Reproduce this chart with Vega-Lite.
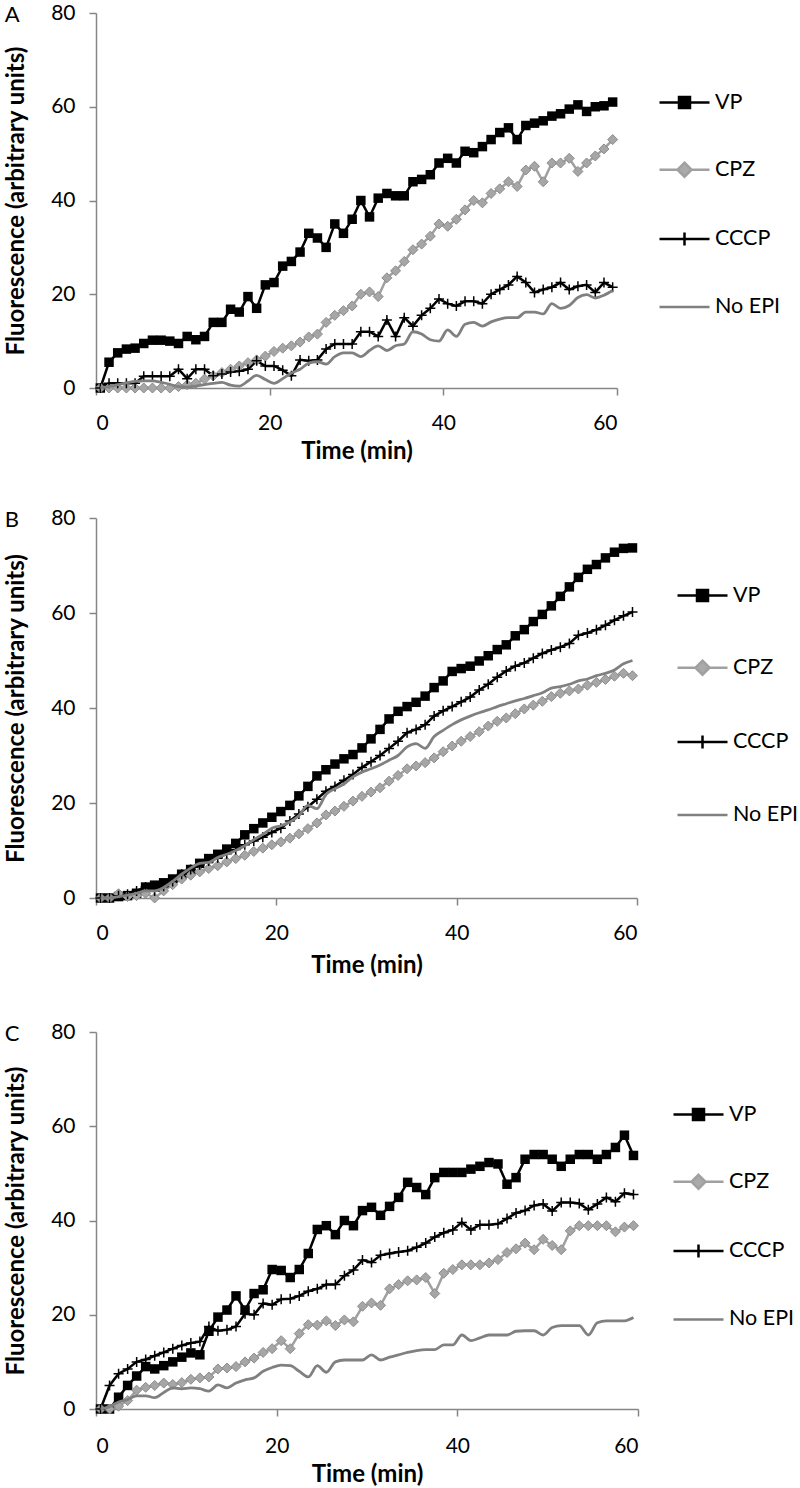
{
"$schema":"https://vega.github.io/schema/vega-lite/v6.json",
"padding":{"left":4,"top":2,"right":0,"bottom":0},
"background":"white",
"datasets":{
"A":[
{"s":"VP","t":0.5,"v":0},{"s":"VP","t":1.5,"v":5.5},{"s":"VP","t":2.5,"v":7.5},{"s":"VP","t":3.5,"v":8.3},{"s":"VP","t":4.5,"v":8.5},{"s":"VP","t":5.5,"v":9.5},{"s":"VP","t":6.5,"v":10.2},{"s":"VP","t":7.5,"v":10.2},{"s":"VP","t":8.5,"v":10},{"s":"VP","t":9.5,"v":9.5},
{"s":"VP","t":10.5,"v":11},{"s":"VP","t":11.5,"v":10.3},{"s":"VP","t":12.5,"v":11},{"s":"VP","t":13.5,"v":14},{"s":"VP","t":14.5,"v":14},{"s":"VP","t":15.5,"v":16.8},{"s":"VP","t":16.5,"v":16.2},{"s":"VP","t":17.5,"v":19.5},{"s":"VP","t":18.5,"v":17},{"s":"VP","t":19.5,"v":22},
{"s":"VP","t":20.5,"v":22.5},{"s":"VP","t":21.5,"v":26},{"s":"VP","t":22.5,"v":27},{"s":"VP","t":23.5,"v":29},{"s":"VP","t":24.5,"v":33},{"s":"VP","t":25.5,"v":32},{"s":"VP","t":26.5,"v":30},{"s":"VP","t":27.5,"v":35},{"s":"VP","t":28.5,"v":33},{"s":"VP","t":29.5,"v":36},
{"s":"VP","t":30.5,"v":40},{"s":"VP","t":31.5,"v":36.5},{"s":"VP","t":32.5,"v":40.5},{"s":"VP","t":33.5,"v":41.5},{"s":"VP","t":34.5,"v":41},{"s":"VP","t":35.5,"v":41},{"s":"VP","t":36.5,"v":44},{"s":"VP","t":37.5,"v":44.5},{"s":"VP","t":38.5,"v":45.5},{"s":"VP","t":39.5,"v":48},
{"s":"VP","t":40.5,"v":49},{"s":"VP","t":41.5,"v":48},{"s":"VP","t":42.5,"v":50.5},{"s":"VP","t":43.5,"v":50.2},{"s":"VP","t":44.5,"v":51.5},{"s":"VP","t":45.5,"v":53},{"s":"VP","t":46.5,"v":54.5},{"s":"VP","t":47.5,"v":55.5},{"s":"VP","t":48.5,"v":53},{"s":"VP","t":49.5,"v":56},
{"s":"VP","t":50.5,"v":56.5},{"s":"VP","t":51.5,"v":57},{"s":"VP","t":52.5,"v":58},{"s":"VP","t":53.5,"v":58.5},{"s":"VP","t":54.5,"v":59.5},{"s":"VP","t":55.5,"v":60.4},{"s":"VP","t":56.5,"v":59},{"s":"VP","t":57.5,"v":60},{"s":"VP","t":58.5,"v":60.2},{"s":"VP","t":59.5,"v":61},
{"s":"CPZ","t":0.5,"v":0},{"s":"CPZ","t":1.5,"v":0},{"s":"CPZ","t":2.5,"v":0},{"s":"CPZ","t":3.5,"v":0},{"s":"CPZ","t":4.5,"v":0},{"s":"CPZ","t":5.5,"v":0},{"s":"CPZ","t":6.5,"v":0},{"s":"CPZ","t":7.5,"v":0},{"s":"CPZ","t":8.5,"v":0},{"s":"CPZ","t":9.5,"v":0.3},
{"s":"CPZ","t":10.5,"v":0.7},{"s":"CPZ","t":11.5,"v":1},{"s":"CPZ","t":12.5,"v":1.9},{"s":"CPZ","t":13.5,"v":2.6},{"s":"CPZ","t":14.5,"v":3.3},{"s":"CPZ","t":15.5,"v":4},{"s":"CPZ","t":16.5,"v":4.7},{"s":"CPZ","t":17.5,"v":5.4},{"s":"CPZ","t":18.5,"v":6},{"s":"CPZ","t":19.5,"v":6.8},
{"s":"CPZ","t":20.5,"v":7.8},{"s":"CPZ","t":21.5,"v":8.5},{"s":"CPZ","t":22.5,"v":9},{"s":"CPZ","t":23.5,"v":9.8},{"s":"CPZ","t":24.5,"v":10.9},{"s":"CPZ","t":25.5,"v":11.5},{"s":"CPZ","t":26.5,"v":14},{"s":"CPZ","t":27.5,"v":15.5},{"s":"CPZ","t":28.5,"v":16.5},{"s":"CPZ","t":29.5,"v":17.5},
{"s":"CPZ","t":30.5,"v":20},{"s":"CPZ","t":31.5,"v":20.5},{"s":"CPZ","t":32.5,"v":19.5},{"s":"CPZ","t":33.5,"v":23.5},{"s":"CPZ","t":34.5,"v":25},{"s":"CPZ","t":35.5,"v":27},{"s":"CPZ","t":36.5,"v":29.5},{"s":"CPZ","t":37.5,"v":30.7},{"s":"CPZ","t":38.5,"v":32.4},{"s":"CPZ","t":39.5,"v":35},
{"s":"CPZ","t":40.5,"v":34.5},{"s":"CPZ","t":41.5,"v":36},{"s":"CPZ","t":42.5,"v":38},{"s":"CPZ","t":43.5,"v":40},{"s":"CPZ","t":44.5,"v":39.5},{"s":"CPZ","t":45.5,"v":41.5},{"s":"CPZ","t":46.5,"v":42.5},{"s":"CPZ","t":47.5,"v":44},{"s":"CPZ","t":48.5,"v":43},{"s":"CPZ","t":49.5,"v":46.5},
{"s":"CPZ","t":50.5,"v":47.3},{"s":"CPZ","t":51.5,"v":44},{"s":"CPZ","t":52.5,"v":48},{"s":"CPZ","t":53.5,"v":48},{"s":"CPZ","t":54.5,"v":49},{"s":"CPZ","t":55.5,"v":46.2},{"s":"CPZ","t":56.5,"v":48},{"s":"CPZ","t":57.5,"v":49.5},{"s":"CPZ","t":58.5,"v":51},{"s":"CPZ","t":59.5,"v":53},
{"s":"CCCP","t":0.5,"v":0},{"s":"CCCP","t":1.5,"v":1},{"s":"CCCP","t":2.5,"v":1},{"s":"CCCP","t":3.5,"v":1},{"s":"CCCP","t":4.5,"v":1},{"s":"CCCP","t":5.5,"v":2.5},{"s":"CCCP","t":6.5,"v":2.5},{"s":"CCCP","t":7.5,"v":2.5},{"s":"CCCP","t":8.5,"v":2.5},{"s":"CCCP","t":9.5,"v":4},
{"s":"CCCP","t":10.5,"v":2},{"s":"CCCP","t":11.5,"v":4},{"s":"CCCP","t":12.5,"v":4},{"s":"CCCP","t":13.5,"v":2.6},{"s":"CCCP","t":14.5,"v":3},{"s":"CCCP","t":15.5,"v":3.4},{"s":"CCCP","t":16.5,"v":3.6},{"s":"CCCP","t":17.5,"v":4},{"s":"CCCP","t":18.5,"v":5.8},{"s":"CCCP","t":19.5,"v":4.7},
{"s":"CCCP","t":20.5,"v":4.7},{"s":"CCCP","t":21.5,"v":3.8},{"s":"CCCP","t":22.5,"v":2.6},{"s":"CCCP","t":23.5,"v":6},{"s":"CCCP","t":24.5,"v":5.8},{"s":"CCCP","t":25.5,"v":6},{"s":"CCCP","t":26.5,"v":8.3},{"s":"CCCP","t":27.5,"v":9.4},{"s":"CCCP","t":28.5,"v":9.4},{"s":"CCCP","t":29.5,"v":9.4},
{"s":"CCCP","t":30.5,"v":12},{"s":"CCCP","t":31.5,"v":12},{"s":"CCCP","t":32.5,"v":11},{"s":"CCCP","t":33.5,"v":14.5},{"s":"CCCP","t":34.5,"v":11},{"s":"CCCP","t":35.5,"v":15},{"s":"CCCP","t":36.5,"v":13.2},{"s":"CCCP","t":37.5,"v":15.5},{"s":"CCCP","t":38.5,"v":17},{"s":"CCCP","t":39.5,"v":19},
{"s":"CCCP","t":40.5,"v":18},{"s":"CCCP","t":41.5,"v":17.5},{"s":"CCCP","t":42.5,"v":18.5},{"s":"CCCP","t":43.5,"v":18.5},{"s":"CCCP","t":44.5,"v":18},{"s":"CCCP","t":45.5,"v":20},{"s":"CCCP","t":46.5,"v":21},{"s":"CCCP","t":47.5,"v":22},{"s":"CCCP","t":48.5,"v":23.8},{"s":"CCCP","t":49.5,"v":22.5},
{"s":"CCCP","t":50.5,"v":20.4},{"s":"CCCP","t":51.5,"v":21},{"s":"CCCP","t":52.5,"v":21.5},{"s":"CCCP","t":53.5,"v":22.5},{"s":"CCCP","t":54.5,"v":21},{"s":"CCCP","t":55.5,"v":21.7},{"s":"CCCP","t":56.5,"v":22},{"s":"CCCP","t":57.5,"v":20.4},{"s":"CCCP","t":58.5,"v":22.5},{"s":"CCCP","t":59.5,"v":21.5},
{"s":"No EPI","t":0.5,"v":0},{"s":"No EPI","t":1.5,"v":0.3},{"s":"No EPI","t":2.5,"v":0.7},{"s":"No EPI","t":3.5,"v":1.1},{"s":"No EPI","t":4.5,"v":1.4},{"s":"No EPI","t":5.5,"v":1.5},{"s":"No EPI","t":6.5,"v":1.5},{"s":"No EPI","t":7.5,"v":1.2},{"s":"No EPI","t":8.5,"v":0.8},{"s":"No EPI","t":9.5,"v":0.3},
{"s":"No EPI","t":10.5,"v":0.2},{"s":"No EPI","t":11.5,"v":0.4},{"s":"No EPI","t":12.5,"v":0.7},{"s":"No EPI","t":13.5,"v":1},{"s":"No EPI","t":14.5,"v":1.2},{"s":"No EPI","t":15.5,"v":0.6},{"s":"No EPI","t":16.5,"v":0.4},{"s":"No EPI","t":17.5,"v":1.5},{"s":"No EPI","t":18.5,"v":2.7},{"s":"No EPI","t":19.5,"v":1.8},
{"s":"No EPI","t":20.5,"v":1},{"s":"No EPI","t":21.5,"v":2},{"s":"No EPI","t":22.5,"v":3.2},{"s":"No EPI","t":23.5,"v":4},{"s":"No EPI","t":24.5,"v":5.3},{"s":"No EPI","t":25.5,"v":5.6},{"s":"No EPI","t":26.5,"v":5.1},{"s":"No EPI","t":27.5,"v":6.7},{"s":"No EPI","t":28.5,"v":7.5},{"s":"No EPI","t":29.5,"v":7.5},
{"s":"No EPI","t":30.5,"v":6.7},{"s":"No EPI","t":31.5,"v":8},{"s":"No EPI","t":32.5,"v":9},{"s":"No EPI","t":33.5,"v":8},{"s":"No EPI","t":34.5,"v":9},{"s":"No EPI","t":35.5,"v":9.4},{"s":"No EPI","t":36.5,"v":12},{"s":"No EPI","t":37.5,"v":11.5},{"s":"No EPI","t":38.5,"v":10.3},{"s":"No EPI","t":39.5,"v":10},
{"s":"No EPI","t":40.5,"v":12.4},{"s":"No EPI","t":41.5,"v":11},{"s":"No EPI","t":42.5,"v":13.6},{"s":"No EPI","t":43.5,"v":14},{"s":"No EPI","t":44.5,"v":13.2},{"s":"No EPI","t":45.5,"v":14.1},{"s":"No EPI","t":46.5,"v":14.7},{"s":"No EPI","t":47.5,"v":15},{"s":"No EPI","t":48.5,"v":15},{"s":"No EPI","t":49.5,"v":16.2},
{"s":"No EPI","t":50.5,"v":16.2},{"s":"No EPI","t":51.5,"v":15.8},{"s":"No EPI","t":52.5,"v":18},{"s":"No EPI","t":53.5,"v":17},{"s":"No EPI","t":54.5,"v":17.6},{"s":"No EPI","t":55.5,"v":19.3},{"s":"No EPI","t":56.5,"v":19.9},{"s":"No EPI","t":57.5,"v":19.2},{"s":"No EPI","t":58.5,"v":19.8},{"s":"No EPI","t":59.5,"v":20.8}
],
"B":[
{"s":"VP","t":0.5,"v":0},{"s":"VP","t":1.5,"v":0},{"s":"VP","t":2.5,"v":0.3},{"s":"VP","t":3.5,"v":0.5},{"s":"VP","t":4.5,"v":1},{"s":"VP","t":5.5,"v":2.3},{"s":"VP","t":6.5,"v":2.7},{"s":"VP","t":7.5,"v":3.2},{"s":"VP","t":8.5,"v":4},{"s":"VP","t":9.5,"v":5},
{"s":"VP","t":10.5,"v":6},{"s":"VP","t":11.5,"v":7.3},{"s":"VP","t":12.5,"v":8.3},{"s":"VP","t":13.5,"v":9.2},{"s":"VP","t":14.5,"v":10.3},{"s":"VP","t":15.5,"v":11.5},{"s":"VP","t":16.5,"v":13.3},{"s":"VP","t":17.5,"v":14.6},{"s":"VP","t":18.5,"v":15.8},{"s":"VP","t":19.5,"v":17},
{"s":"VP","t":20.5,"v":18.2},{"s":"VP","t":21.5,"v":19.5},{"s":"VP","t":22.5,"v":21.5},{"s":"VP","t":23.5,"v":23.5},{"s":"VP","t":24.5,"v":25.7},{"s":"VP","t":25.5,"v":27},{"s":"VP","t":26.5,"v":28.2},{"s":"VP","t":27.5,"v":29.3},{"s":"VP","t":28.5,"v":30.2},{"s":"VP","t":29.5,"v":31.6},
{"s":"VP","t":30.5,"v":33.5},{"s":"VP","t":31.5,"v":35.5},{"s":"VP","t":32.5,"v":37.7},{"s":"VP","t":33.5,"v":39.3},{"s":"VP","t":34.5,"v":40.3},{"s":"VP","t":35.5,"v":41.2},{"s":"VP","t":36.5,"v":42.5},{"s":"VP","t":37.5,"v":44.3},{"s":"VP","t":38.5,"v":45.7},{"s":"VP","t":39.5,"v":47.7},
{"s":"VP","t":40.5,"v":48.3},{"s":"VP","t":41.5,"v":48.8},{"s":"VP","t":42.5,"v":49.9},{"s":"VP","t":43.5,"v":51},{"s":"VP","t":44.5,"v":52.3},{"s":"VP","t":45.5,"v":53.3},{"s":"VP","t":46.5,"v":55.2},{"s":"VP","t":47.5,"v":56.5},{"s":"VP","t":48.5,"v":58.2},{"s":"VP","t":49.5,"v":59.7},
{"s":"VP","t":50.5,"v":61.5},{"s":"VP","t":51.5,"v":63.5},{"s":"VP","t":52.5,"v":65.5},{"s":"VP","t":53.5,"v":67.5},{"s":"VP","t":54.5,"v":69.2},{"s":"VP","t":55.5,"v":70.2},{"s":"VP","t":56.5,"v":71.6},{"s":"VP","t":57.5,"v":72.8},{"s":"VP","t":58.5,"v":73.6},{"s":"VP","t":59.5,"v":73.7},
{"s":"CPZ","t":0.5,"v":0},{"s":"CPZ","t":1.5,"v":0},{"s":"CPZ","t":2.5,"v":0.9},{"s":"CPZ","t":3.5,"v":0.3},{"s":"CPZ","t":4.5,"v":0.5},{"s":"CPZ","t":5.5,"v":1},{"s":"CPZ","t":6.5,"v":0},{"s":"CPZ","t":7.5,"v":1.5},{"s":"CPZ","t":8.5,"v":2.8},{"s":"CPZ","t":9.5,"v":4},
{"s":"CPZ","t":10.5,"v":4.8},{"s":"CPZ","t":11.5,"v":5.5},{"s":"CPZ","t":12.5,"v":6.2},{"s":"CPZ","t":13.5,"v":6.8},{"s":"CPZ","t":14.5,"v":7.6},{"s":"CPZ","t":15.5,"v":8.3},{"s":"CPZ","t":16.5,"v":9},{"s":"CPZ","t":17.5,"v":9.8},{"s":"CPZ","t":18.5,"v":10.5},{"s":"CPZ","t":19.5,"v":11.2},
{"s":"CPZ","t":20.5,"v":11.8},{"s":"CPZ","t":21.5,"v":12.6},{"s":"CPZ","t":22.5,"v":13.5},{"s":"CPZ","t":23.5,"v":14.6},{"s":"CPZ","t":24.5,"v":15.8},{"s":"CPZ","t":25.5,"v":17.5},{"s":"CPZ","t":26.5,"v":18.3},{"s":"CPZ","t":27.5,"v":19.3},{"s":"CPZ","t":28.5,"v":20.4},{"s":"CPZ","t":29.5,"v":21.4},
{"s":"CPZ","t":30.5,"v":22.3},{"s":"CPZ","t":31.5,"v":23.2},{"s":"CPZ","t":32.5,"v":24.6},{"s":"CPZ","t":33.5,"v":25.8},{"s":"CPZ","t":34.5,"v":27.2},{"s":"CPZ","t":35.5,"v":27.8},{"s":"CPZ","t":36.5,"v":28.5},{"s":"CPZ","t":37.5,"v":29.5},{"s":"CPZ","t":38.5,"v":30.8},{"s":"CPZ","t":39.5,"v":32},
{"s":"CPZ","t":40.5,"v":33},{"s":"CPZ","t":41.5,"v":34},{"s":"CPZ","t":42.5,"v":35},{"s":"CPZ","t":43.5,"v":36.2},{"s":"CPZ","t":44.5,"v":37.2},{"s":"CPZ","t":45.5,"v":37.9},{"s":"CPZ","t":46.5,"v":38.8},{"s":"CPZ","t":47.5,"v":39.8},{"s":"CPZ","t":48.5,"v":40.6},{"s":"CPZ","t":49.5,"v":41.4},
{"s":"CPZ","t":50.5,"v":42.4},{"s":"CPZ","t":51.5,"v":43.1},{"s":"CPZ","t":52.5,"v":43.6},{"s":"CPZ","t":53.5,"v":44},{"s":"CPZ","t":54.5,"v":44.8},{"s":"CPZ","t":55.5,"v":45.4},{"s":"CPZ","t":56.5,"v":46},{"s":"CPZ","t":57.5,"v":46.7},{"s":"CPZ","t":58.5,"v":47.3},{"s":"CPZ","t":59.5,"v":46.8},
{"s":"CCCP","t":0.5,"v":0},{"s":"CCCP","t":1.5,"v":0},{"s":"CCCP","t":2.5,"v":0.5},{"s":"CCCP","t":3.5,"v":0.8},{"s":"CCCP","t":4.5,"v":1.5},{"s":"CCCP","t":5.5,"v":2.3},{"s":"CCCP","t":6.5,"v":1.5},{"s":"CCCP","t":7.5,"v":2.5},{"s":"CCCP","t":8.5,"v":3.5},{"s":"CCCP","t":9.5,"v":5},
{"s":"CCCP","t":10.5,"v":6},{"s":"CCCP","t":11.5,"v":7},{"s":"CCCP","t":12.5,"v":7.8},{"s":"CCCP","t":13.5,"v":8.5},{"s":"CCCP","t":14.5,"v":9.3},{"s":"CCCP","t":15.5,"v":10.2},{"s":"CCCP","t":16.5,"v":11.2},{"s":"CCCP","t":17.5,"v":12},{"s":"CCCP","t":18.5,"v":12.8},{"s":"CCCP","t":19.5,"v":13.8},
{"s":"CCCP","t":20.5,"v":14.7},{"s":"CCCP","t":21.5,"v":16.2},{"s":"CCCP","t":22.5,"v":17.7},{"s":"CCCP","t":23.5,"v":19.2},{"s":"CCCP","t":24.5,"v":20.8},{"s":"CCCP","t":25.5,"v":22.5},{"s":"CCCP","t":26.5,"v":23.5},{"s":"CCCP","t":27.5,"v":24.8},{"s":"CCCP","t":28.5,"v":26},{"s":"CCCP","t":29.5,"v":27.5},
{"s":"CCCP","t":30.5,"v":28.7},{"s":"CCCP","t":31.5,"v":30},{"s":"CCCP","t":32.5,"v":31.5},{"s":"CCCP","t":33.5,"v":33},{"s":"CCCP","t":34.5,"v":34.8},{"s":"CCCP","t":35.5,"v":35.5},{"s":"CCCP","t":36.5,"v":36.5},{"s":"CCCP","t":37.5,"v":38.3},{"s":"CCCP","t":38.5,"v":39.4},{"s":"CCCP","t":39.5,"v":40.3},
{"s":"CCCP","t":40.5,"v":41.3},{"s":"CCCP","t":41.5,"v":42.3},{"s":"CCCP","t":42.5,"v":43.8},{"s":"CCCP","t":43.5,"v":45},{"s":"CCCP","t":44.5,"v":46.5},{"s":"CCCP","t":45.5,"v":47.8},{"s":"CCCP","t":46.5,"v":48.8},{"s":"CCCP","t":47.5,"v":49.5},{"s":"CCCP","t":48.5,"v":50.5},{"s":"CCCP","t":49.5,"v":51.5},
{"s":"CCCP","t":50.5,"v":52.2},{"s":"CCCP","t":51.5,"v":52.8},{"s":"CCCP","t":52.5,"v":53.6},{"s":"CCCP","t":53.5,"v":55.3},{"s":"CCCP","t":54.5,"v":55.8},{"s":"CCCP","t":55.5,"v":56.5},{"s":"CCCP","t":56.5,"v":57.4},{"s":"CCCP","t":57.5,"v":58.5},{"s":"CCCP","t":58.5,"v":59.4},{"s":"CCCP","t":59.5,"v":60.2},
{"s":"No EPI","t":0.5,"v":0},{"s":"No EPI","t":1.5,"v":0},{"s":"No EPI","t":2.5,"v":0.3},{"s":"No EPI","t":3.5,"v":0.6},{"s":"No EPI","t":4.5,"v":1},{"s":"No EPI","t":5.5,"v":1.5},{"s":"No EPI","t":6.5,"v":1.5},{"s":"No EPI","t":7.5,"v":2.2},{"s":"No EPI","t":8.5,"v":3.5},{"s":"No EPI","t":9.5,"v":5},
{"s":"No EPI","t":10.5,"v":6.3},{"s":"No EPI","t":11.5,"v":7.3},{"s":"No EPI","t":12.5,"v":7.5},{"s":"No EPI","t":13.5,"v":8.5},{"s":"No EPI","t":14.5,"v":9.2},{"s":"No EPI","t":15.5,"v":10},{"s":"No EPI","t":16.5,"v":11},{"s":"No EPI","t":17.5,"v":12.3},{"s":"No EPI","t":18.5,"v":13.4},{"s":"No EPI","t":19.5,"v":14.7},
{"s":"No EPI","t":20.5,"v":15.2},{"s":"No EPI","t":21.5,"v":16},{"s":"No EPI","t":22.5,"v":17.3},{"s":"No EPI","t":23.5,"v":19.5},{"s":"No EPI","t":24.5,"v":18.8},{"s":"No EPI","t":25.5,"v":21.8},{"s":"No EPI","t":26.5,"v":23},{"s":"No EPI","t":27.5,"v":24},{"s":"No EPI","t":28.5,"v":25.5},{"s":"No EPI","t":29.5,"v":26.5},
{"s":"No EPI","t":30.5,"v":27.2},{"s":"No EPI","t":31.5,"v":28},{"s":"No EPI","t":32.5,"v":29},{"s":"No EPI","t":33.5,"v":30},{"s":"No EPI","t":34.5,"v":31.8},{"s":"No EPI","t":35.5,"v":32.5},{"s":"No EPI","t":36.5,"v":31.5},{"s":"No EPI","t":37.5,"v":34},{"s":"No EPI","t":38.5,"v":35.3},{"s":"No EPI","t":39.5,"v":36.5},
{"s":"No EPI","t":40.5,"v":37.5},{"s":"No EPI","t":41.5,"v":38.3},{"s":"No EPI","t":42.5,"v":39},{"s":"No EPI","t":43.5,"v":39.6},{"s":"No EPI","t":44.5,"v":40.3},{"s":"No EPI","t":45.5,"v":40.9},{"s":"No EPI","t":46.5,"v":41.5},{"s":"No EPI","t":47.5,"v":42},{"s":"No EPI","t":48.5,"v":42.6},{"s":"No EPI","t":49.5,"v":43.2},
{"s":"No EPI","t":50.5,"v":44.2},{"s":"No EPI","t":51.5,"v":44.5},{"s":"No EPI","t":52.5,"v":45},{"s":"No EPI","t":53.5,"v":45.7},{"s":"No EPI","t":54.5,"v":46.1},{"s":"No EPI","t":55.5,"v":46.8},{"s":"No EPI","t":56.5,"v":47.3},{"s":"No EPI","t":57.5,"v":48},{"s":"No EPI","t":58.5,"v":49.3},{"s":"No EPI","t":59.5,"v":50}
],
"C":[
{"s":"VP","t":0.5,"v":0},{"s":"VP","t":1.5,"v":0},{"s":"VP","t":2.5,"v":2.5},{"s":"VP","t":3.5,"v":5},{"s":"VP","t":4.5,"v":7},{"s":"VP","t":5.5,"v":9},{"s":"VP","t":6.5,"v":8.5},{"s":"VP","t":7.5,"v":9.2},{"s":"VP","t":8.5,"v":10},{"s":"VP","t":9.5,"v":11},
{"s":"VP","t":10.5,"v":11.9},{"s":"VP","t":11.5,"v":11.5},{"s":"VP","t":12.5,"v":16.5},{"s":"VP","t":13.5,"v":19.5},{"s":"VP","t":14.5,"v":21},{"s":"VP","t":15.5,"v":24},{"s":"VP","t":16.5,"v":21},{"s":"VP","t":17.5,"v":24.5},{"s":"VP","t":18.5,"v":25.3},{"s":"VP","t":19.5,"v":29.6},
{"s":"VP","t":20.5,"v":29.4},{"s":"VP","t":21.5,"v":27.9},{"s":"VP","t":22.5,"v":29.6},{"s":"VP","t":23.5,"v":33},{"s":"VP","t":24.5,"v":38.1},{"s":"VP","t":25.5,"v":38.9},{"s":"VP","t":26.5,"v":37},{"s":"VP","t":27.5,"v":40},{"s":"VP","t":28.5,"v":38.9},{"s":"VP","t":29.5,"v":42.1},
{"s":"VP","t":30.5,"v":42.8},{"s":"VP","t":31.5,"v":41.1},{"s":"VP","t":32.5,"v":43},{"s":"VP","t":33.5,"v":44.9},{"s":"VP","t":34.5,"v":48.1},{"s":"VP","t":35.5,"v":47},{"s":"VP","t":36.5,"v":45.5},{"s":"VP","t":37.5,"v":49.1},{"s":"VP","t":38.5,"v":50.2},{"s":"VP","t":39.5,"v":50.2},
{"s":"VP","t":40.5,"v":50.2},{"s":"VP","t":41.5,"v":50.9},{"s":"VP","t":42.5,"v":51.5},{"s":"VP","t":43.5,"v":52.3},{"s":"VP","t":44.5,"v":52},{"s":"VP","t":45.5,"v":47.7},{"s":"VP","t":46.5,"v":49.1},{"s":"VP","t":47.5,"v":53},{"s":"VP","t":48.5,"v":54},{"s":"VP","t":49.5,"v":54},
{"s":"VP","t":50.5,"v":53},{"s":"VP","t":51.5,"v":51.5},{"s":"VP","t":52.5,"v":53},{"s":"VP","t":53.5,"v":54},{"s":"VP","t":54.5,"v":54},{"s":"VP","t":55.5,"v":53},{"s":"VP","t":56.5,"v":54},{"s":"VP","t":57.5,"v":55.5},{"s":"VP","t":58.5,"v":58.1},{"s":"VP","t":59.5,"v":53.8},
{"s":"CPZ","t":0.5,"v":0},{"s":"CPZ","t":1.5,"v":0},{"s":"CPZ","t":2.5,"v":0.6},{"s":"CPZ","t":3.5,"v":1.8},{"s":"CPZ","t":4.5,"v":4},{"s":"CPZ","t":5.5,"v":4.6},{"s":"CPZ","t":6.5,"v":5},{"s":"CPZ","t":7.5,"v":5.5},{"s":"CPZ","t":8.5,"v":5.2},{"s":"CPZ","t":9.5,"v":5.6},
{"s":"CPZ","t":10.5,"v":6.3},{"s":"CPZ","t":11.5,"v":6.6},{"s":"CPZ","t":12.5,"v":6.8},{"s":"CPZ","t":13.5,"v":8.5},{"s":"CPZ","t":14.5,"v":8.7},{"s":"CPZ","t":15.5,"v":9},{"s":"CPZ","t":16.5,"v":10},{"s":"CPZ","t":17.5,"v":10.8},{"s":"CPZ","t":18.5,"v":12},{"s":"CPZ","t":19.5,"v":12.8},
{"s":"CPZ","t":20.5,"v":14.5},{"s":"CPZ","t":21.5,"v":12.8},{"s":"CPZ","t":22.5,"v":16},{"s":"CPZ","t":23.5,"v":17.9},{"s":"CPZ","t":24.5,"v":17.8},{"s":"CPZ","t":25.5,"v":18.7},{"s":"CPZ","t":26.5,"v":17.7},{"s":"CPZ","t":27.5,"v":18.9},{"s":"CPZ","t":28.5,"v":18.5},{"s":"CPZ","t":29.5,"v":21.8},
{"s":"CPZ","t":30.5,"v":22.5},{"s":"CPZ","t":31.5,"v":22},{"s":"CPZ","t":32.5,"v":25.5},{"s":"CPZ","t":33.5,"v":26.4},{"s":"CPZ","t":34.5,"v":27.2},{"s":"CPZ","t":35.5,"v":27.4},{"s":"CPZ","t":36.5,"v":27.9},{"s":"CPZ","t":37.5,"v":24.5},{"s":"CPZ","t":38.5,"v":28.8},{"s":"CPZ","t":39.5,"v":29.6},
{"s":"CPZ","t":40.5,"v":30.6},{"s":"CPZ","t":41.5,"v":30.6},{"s":"CPZ","t":42.5,"v":30.6},{"s":"CPZ","t":43.5,"v":31},{"s":"CPZ","t":44.5,"v":31.7},{"s":"CPZ","t":45.5,"v":33.2},{"s":"CPZ","t":46.5,"v":34},{"s":"CPZ","t":47.5,"v":35.2},{"s":"CPZ","t":48.5,"v":33.8},{"s":"CPZ","t":49.5,"v":36},
{"s":"CPZ","t":50.5,"v":34.7},{"s":"CPZ","t":51.5,"v":33.8},{"s":"CPZ","t":52.5,"v":37.8},{"s":"CPZ","t":53.5,"v":38.9},{"s":"CPZ","t":54.5,"v":38.9},{"s":"CPZ","t":55.5,"v":38.9},{"s":"CPZ","t":56.5,"v":38.9},{"s":"CPZ","t":57.5,"v":37.6},{"s":"CPZ","t":58.5,"v":38.6},{"s":"CPZ","t":59.5,"v":38.9},
{"s":"CCCP","t":0.5,"v":0},{"s":"CCCP","t":1.5,"v":5},{"s":"CCCP","t":2.5,"v":7.5},{"s":"CCCP","t":3.5,"v":8.5},{"s":"CCCP","t":4.5,"v":10},{"s":"CCCP","t":5.5,"v":10.5},{"s":"CCCP","t":6.5,"v":11.3},{"s":"CCCP","t":7.5,"v":12},{"s":"CCCP","t":8.5,"v":12.8},{"s":"CCCP","t":9.5,"v":13.5},
{"s":"CCCP","t":10.5,"v":14},{"s":"CCCP","t":11.5,"v":14.3},{"s":"CCCP","t":12.5,"v":17.5},{"s":"CCCP","t":13.5,"v":16.6},{"s":"CCCP","t":14.5,"v":16.8},{"s":"CCCP","t":15.5,"v":17.5},{"s":"CCCP","t":16.5,"v":20.2},{"s":"CCCP","t":17.5,"v":20},{"s":"CCCP","t":18.5,"v":22.4},{"s":"CCCP","t":19.5,"v":22.1},
{"s":"CCCP","t":20.5,"v":23.3},{"s":"CCCP","t":21.5,"v":23.4},{"s":"CCCP","t":22.5,"v":24},{"s":"CCCP","t":23.5,"v":25},{"s":"CCCP","t":24.5,"v":25.5},{"s":"CCCP","t":25.5,"v":26.4},{"s":"CCCP","t":26.5,"v":26.4},{"s":"CCCP","t":27.5,"v":28.3},{"s":"CCCP","t":28.5,"v":29.5},{"s":"CCCP","t":29.5,"v":31.6},
{"s":"CCCP","t":30.5,"v":31.1},{"s":"CCCP","t":31.5,"v":32.6},{"s":"CCCP","t":32.5,"v":33},{"s":"CCCP","t":33.5,"v":33.3},{"s":"CCCP","t":34.5,"v":33.6},{"s":"CCCP","t":35.5,"v":34.3},{"s":"CCCP","t":36.5,"v":35.2},{"s":"CCCP","t":37.5,"v":36.5},{"s":"CCCP","t":38.5,"v":37.4},{"s":"CCCP","t":39.5,"v":38},
{"s":"CCCP","t":40.5,"v":39.6},{"s":"CCCP","t":41.5,"v":38},{"s":"CCCP","t":42.5,"v":39.1},{"s":"CCCP","t":43.5,"v":39.1},{"s":"CCCP","t":44.5,"v":39.3},{"s":"CCCP","t":45.5,"v":40.4},{"s":"CCCP","t":46.5,"v":41.6},{"s":"CCCP","t":47.5,"v":42.1},{"s":"CCCP","t":48.5,"v":43.2},{"s":"CCCP","t":49.5,"v":43.5},
{"s":"CCCP","t":50.5,"v":42},{"s":"CCCP","t":51.5,"v":43.8},{"s":"CCCP","t":52.5,"v":43.8},{"s":"CCCP","t":53.5,"v":43.6},{"s":"CCCP","t":54.5,"v":42.3},{"s":"CCCP","t":55.5,"v":43.5},{"s":"CCCP","t":56.5,"v":44.9},{"s":"CCCP","t":57.5,"v":44},{"s":"CCCP","t":58.5,"v":45.8},{"s":"CCCP","t":59.5,"v":45.5},
{"s":"No EPI","t":0.5,"v":0},{"s":"No EPI","t":1.5,"v":0.5},{"s":"No EPI","t":2.5,"v":1.5},{"s":"No EPI","t":3.5,"v":2},{"s":"No EPI","t":4.5,"v":2.8},{"s":"No EPI","t":5.5,"v":2.8},{"s":"No EPI","t":6.5,"v":2.4},{"s":"No EPI","t":7.5,"v":3.5},{"s":"No EPI","t":8.5,"v":4.5},{"s":"No EPI","t":9.5,"v":4.3},
{"s":"No EPI","t":10.5,"v":4.5},{"s":"No EPI","t":11.5,"v":4.3},{"s":"No EPI","t":12.5,"v":3.8},{"s":"No EPI","t":13.5,"v":5.1},{"s":"No EPI","t":14.5,"v":4.5},{"s":"No EPI","t":15.5,"v":5.5},{"s":"No EPI","t":16.5,"v":6.2},{"s":"No EPI","t":17.5,"v":6.6},{"s":"No EPI","t":18.5,"v":8},{"s":"No EPI","t":19.5,"v":8.8},
{"s":"No EPI","t":20.5,"v":9.3},{"s":"No EPI","t":21.5,"v":9.2},{"s":"No EPI","t":22.5,"v":8},{"s":"No EPI","t":23.5,"v":6.8},{"s":"No EPI","t":24.5,"v":9.2},{"s":"No EPI","t":25.5,"v":7.8},{"s":"No EPI","t":26.5,"v":10},{"s":"No EPI","t":27.5,"v":10.4},{"s":"No EPI","t":28.5,"v":10.4},{"s":"No EPI","t":29.5,"v":10.4},
{"s":"No EPI","t":30.5,"v":11.5},{"s":"No EPI","t":31.5,"v":10.4},{"s":"No EPI","t":32.5,"v":11},{"s":"No EPI","t":33.5,"v":11.5},{"s":"No EPI","t":34.5,"v":12},{"s":"No EPI","t":35.5,"v":12.4},{"s":"No EPI","t":36.5,"v":12.6},{"s":"No EPI","t":37.5,"v":12.6},{"s":"No EPI","t":38.5,"v":13.6},{"s":"No EPI","t":39.5,"v":13.6},
{"s":"No EPI","t":40.5,"v":15.7},{"s":"No EPI","t":41.5,"v":14.5},{"s":"No EPI","t":42.5,"v":15.1},{"s":"No EPI","t":43.5,"v":15.7},{"s":"No EPI","t":44.5,"v":15.7},{"s":"No EPI","t":45.5,"v":15.7},{"s":"No EPI","t":46.5,"v":16.5},{"s":"No EPI","t":47.5,"v":16.6},{"s":"No EPI","t":48.5,"v":16.6},{"s":"No EPI","t":49.5,"v":15.7},
{"s":"No EPI","t":50.5,"v":17.3},{"s":"No EPI","t":51.5,"v":17.7},{"s":"No EPI","t":52.5,"v":17.7},{"s":"No EPI","t":53.5,"v":17.7},{"s":"No EPI","t":54.5,"v":15.7},{"s":"No EPI","t":55.5,"v":18.3},{"s":"No EPI","t":56.5,"v":18.7},{"s":"No EPI","t":57.5,"v":18.7},{"s":"No EPI","t":58.5,"v":18.7},{"s":"No EPI","t":59.5,"v":19.4}
]
},
"spacing":44,
"resolve":{"scale":{"color":"independent"},"legend":{"color":"independent"}},
"vconcat":[
{
"data":{"name":"A"},"width":521,"height":375,
"title":{"text":"A","offset":-25},
"encoding":{
"x":{"field":"t","type":"quantitative","scale":{"domain":[0,60],"nice":false,"zero":false},"axis":{"values":[0,20,40,60],"title":"Time (min)"}},
"y":{"field":"v","type":"quantitative","scale":{"domain":[0,80],"nice":false},"axis":{"values":[0,20,40,60,80],"title":"Fluorescence (arbitrary units)"}}},
"layer":[
{"transform":[{"filter":"datum.s!=='No EPI'"}],"mark":{"type":"line","strokeWidth":2.5},"encoding":{"color":{"field":"s","type":"nominal","sort":null,"scale":{"domain":["VP","CPZ","CCCP","No EPI"],"range":["#000000","#A0A0A0","#000000","#808080"]},
"legend":{"title":null,"orient":"none","legendX":562,"legendY":63,"symbolSize":2500,"labelFontSize":21.5,"labelFont":"Lato","labelColor":"#000","labelOffset":4,"rowPadding":30.2,"padding":0,
"encode":{"symbols":{"update":{"shape":{"signal":"datum.value==='VP'?'M-1,0H1M-0.22,-0.22H0.22V0.22H-0.22Z':datum.value==='CPZ'?'M-1,0H-0.28M0.28,0H1M0,-0.28L0.28,0L0,0.28L-0.28,0Z':datum.value==='CCCP'?'M-1,0H1M0,-0.26V0.26':'M-1,0H1'"},"fill":{"signal":"datum.value==='VP'?'#000000':datum.value==='CPZ'?'#AAAAAA':'transparent'"},"stroke":{"signal":"datum.value==='CPZ'?'#9A9A9A':datum.value==='No EPI'?'#808080':'#000000'"},"strokeWidth":{"value":2.5},"opacity":{"value":1}}}}}}}},
{"transform":[{"filter":"datum.s==='VP'"}],"mark":{"type":"point","shape":"square","filled":true,"color":"#000000","size":90,"opacity":1}},
{"transform":[{"filter":"datum.s==='CPZ'"}],"mark":{"type":"point","shape":"diamond","filled":true,"fill":"#A6A6A6","stroke":"#8C8C8C","strokeWidth":1,"size":100,"opacity":1}},
{"transform":[{"filter":"datum.s==='CCCP'"}],"mark":{"type":"point","shape":"M-1,0H1M0,-1V1","filled":false,"stroke":"#000000","strokeWidth":1.5,"size":100,"opacity":1}},
{"transform":[{"filter":"datum.s==='No EPI'"}],"mark":{"type":"line","color":"#808080","strokeWidth":2.8,"interpolate":"monotone"}}
]},
{
"data":{"name":"B"},"width":541,"height":380,
"title":{"text":"B","offset":-25},
"encoding":{
"x":{"field":"t","type":"quantitative","scale":{"domain":[0,60],"nice":false,"zero":false},"axis":{"values":[0,20,40,60],"title":"Time (min)","titlePadding":10}},
"y":{"field":"v","type":"quantitative","scale":{"domain":[0,80],"nice":false},"axis":{"values":[0,20,40,60,80],"title":"Fluorescence (arbitrary units)"}}},
"layer":[
{"transform":[{"filter":"datum.s!=='No EPI'"}],"mark":{"type":"line","strokeWidth":2.5},"encoding":{"color":{"field":"s","type":"nominal","sort":null,"scale":{"domain":["VP","CPZ","CCCP","No EPI"],"range":["#000000","#A0A0A0","#000000","#808080"]},
"legend":{"title":null,"orient":"none","legendX":580,"legendY":51,"symbolSize":2500,"labelFontSize":21.5,"labelFont":"Lato","labelColor":"#000","labelOffset":4,"rowPadding":35.2,"padding":0,
"encode":{"symbols":{"update":{"shape":{"signal":"datum.value==='VP'?'M-1,0H1M-0.22,-0.22H0.22V0.22H-0.22Z':datum.value==='CPZ'?'M-1,0H-0.28M0.28,0H1M0,-0.28L0.28,0L0,0.28L-0.28,0Z':datum.value==='CCCP'?'M-1,0H1M0,-0.26V0.26':'M-1,0H1'"},"fill":{"signal":"datum.value==='VP'?'#000000':datum.value==='CPZ'?'#AAAAAA':'transparent'"},"stroke":{"signal":"datum.value==='CPZ'?'#9A9A9A':datum.value==='No EPI'?'#808080':'#000000'"},"strokeWidth":{"value":2.5},"opacity":{"value":1}}}}}}}},
{"transform":[{"filter":"datum.s==='VP'"}],"mark":{"type":"point","shape":"square","filled":true,"color":"#000000","size":90,"opacity":1}},
{"transform":[{"filter":"datum.s==='CPZ'"}],"mark":{"type":"point","shape":"diamond","filled":true,"fill":"#A6A6A6","stroke":"#8C8C8C","strokeWidth":1,"size":100,"opacity":1}},
{"transform":[{"filter":"datum.s==='CCCP'"}],"mark":{"type":"point","shape":"M-1,0H1M0,-1V1","filled":false,"stroke":"#000000","strokeWidth":1.5,"size":100,"opacity":1}},
{"transform":[{"filter":"datum.s==='No EPI'"}],"mark":{"type":"line","color":"#808080","strokeWidth":2.8,"interpolate":"monotone"}}
]},
{
"data":{"name":"C"},"width":542,"height":377,
"title":{"text":"C","offset":-25},
"encoding":{
"x":{"field":"t","type":"quantitative","scale":{"domain":[0,60],"nice":false,"zero":false},"axis":{"values":[0,20,40,60],"title":"Time (min)","labelPadding":19}},
"y":{"field":"v","type":"quantitative","scale":{"domain":[0,80],"nice":false},"axis":{"values":[0,20,40,60,80],"title":"Fluorescence (arbitrary units)"}}},
"layer":[
{"transform":[{"filter":"datum.s!=='No EPI'"}],"mark":{"type":"line","strokeWidth":2.5},"encoding":{"color":{"field":"s","type":"nominal","sort":null,"scale":{"domain":["VP","CPZ","CCCP","No EPI"],"range":["#000000","#A0A0A0","#000000","#808080"]},
"legend":{"title":null,"orient":"none","legendX":576,"legendY":56,"symbolSize":2500,"labelFontSize":21.5,"labelFont":"Lato","labelColor":"#000","labelOffset":4,"rowPadding":30.3,"padding":0,
"encode":{"symbols":{"update":{"shape":{"signal":"datum.value==='VP'?'M-1,0H1M-0.22,-0.22H0.22V0.22H-0.22Z':datum.value==='CPZ'?'M-1,0H-0.28M0.28,0H1M0,-0.28L0.28,0L0,0.28L-0.28,0Z':datum.value==='CCCP'?'M-1,0H1M0,-0.26V0.26':'M-1,0H1'"},"fill":{"signal":"datum.value==='VP'?'#000000':datum.value==='CPZ'?'#AAAAAA':'transparent'"},"stroke":{"signal":"datum.value==='CPZ'?'#9A9A9A':datum.value==='No EPI'?'#808080':'#000000'"},"strokeWidth":{"value":2.5},"opacity":{"value":1}}}}}}}},
{"transform":[{"filter":"datum.s==='VP'"}],"mark":{"type":"point","shape":"square","filled":true,"color":"#000000","size":90,"opacity":1}},
{"transform":[{"filter":"datum.s==='CPZ'"}],"mark":{"type":"point","shape":"diamond","filled":true,"fill":"#A6A6A6","stroke":"#8C8C8C","strokeWidth":1,"size":100,"opacity":1}},
{"transform":[{"filter":"datum.s==='CCCP'"}],"mark":{"type":"point","shape":"M-1,0H1M0,-1V1","filled":false,"stroke":"#000000","strokeWidth":1.5,"size":100,"opacity":1}},
{"transform":[{"filter":"datum.s==='No EPI'"}],"mark":{"type":"line","color":"#808080","strokeWidth":2.8,"interpolate":"monotone"}}
]}
],
"config":{
"font":"Lato",
"view":{"stroke":null},
"axis":{"domainColor":"#868686","tickColor":"#868686","domainWidth":1.5,"tickWidth":1.5,"tickSize":7,"grid":false,"labelFont":"Lato","labelFontSize":21,"labelColor":"#000000","titleFont":"Lato","titleFontSize":24,"titleFontWeight":"bold","titleColor":"#000000"},
"axisX":{"labelPadding":17,"titlePadding":6},
"axisY":{"labelPadding":14,"titlePadding":22},
"title":{"font":"Lato","fontSize":22,"fontWeight":"normal","color":"#000000","anchor":"start","frame":"bounds"}
}
}
